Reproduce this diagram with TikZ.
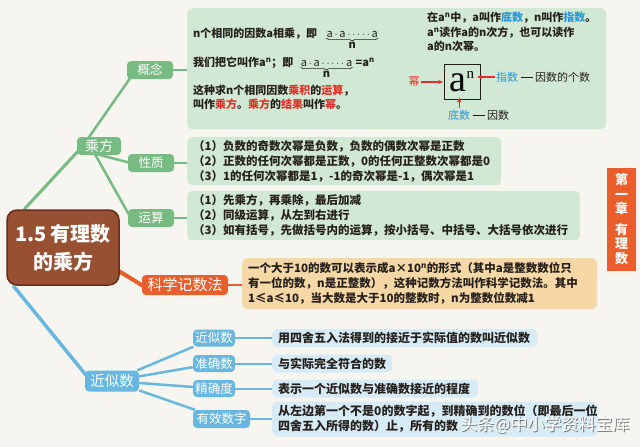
\documentclass[tikz,border=0pt]{standalone}
\usepackage{fontspec}
\setmainfont{Noto Sans CJK SC}
\newfontfamily\serifa{Liberation Serif}
\usetikzlibrary{arrows.meta,positioning,calc,backgrounds,decorations.pathreplacing}
\definecolor{paper}{RGB}{246,245,240}
\definecolor{ink}{RGB}{38,32,28}
\definecolor{leaf}{RGB}{209,232,212}
\definecolor{twig}{RGB}{120,187,130}
\definecolor{bark}{RGB}{152,80,50}
\definecolor{barkdark}{RGB}{105,45,30}
\definecolor{ember}{RGB}{233,94,42}
\definecolor{sand}{RGB}{246,216,166}
\definecolor{sky}{RGB}{104,183,224}
\definecolor{mist}{RGB}{214,235,246}
\definecolor{redtxt}{RGB}{228,48,38}
\definecolor{bluetxt}{RGB}{40,150,215}
\newcommand{\fs}[2]{\fontsize{#1}{#2}\selectfont}
\newcommand{\hl}[1]{\textcolor{redtxt}{#1}}
\newcommand{\bl}[1]{\textcolor{bluetxt}{#1}}
\newcommand{\prodrow}{$\mathrm{a}\,{\cdot}\,\mathrm{a}\,{\cdot}\,{\cdots}\,{\cdot}\,\mathrm{a}$}
\tikzset{
  rootbox/.style={fill=bark, draw=barkdark, line width=1.5pt, rounded corners=10pt, minimum width=112pt, minimum height=75pt, text=white, font=\fs{20}{28}\bfseries, align=center},
  pill/.style={rounded corners=4pt, text=white, inner sep=0pt, font=\fs{12.5}{12.5}},
  greenpill/.style={pill, fill=twig, minimum width=46pt, minimum height=18pt},
  skypill/.style={pill, fill=sky, minimum width=42pt, minimum height=17pt},
  pane/.style={rounded corners=5pt, anchor=north west, inner xsep=6pt, inner ysep=0pt, align=left, text=ink, font=\fs{11.5}{15}\bfseries},
  leafpane/.style={pane, fill=leaf},
  sandpane/.style={pane, fill=sand},
  mistpane/.style={pane, fill=mist, font=\fs{12}{15}\bfseries},
  txt/.style={inner sep=0pt, text=ink, font=\fs{11}{14.5}\bfseries},
  lbl/.style={inner sep=1pt, font=\fs{11}{11}},
  brc/.style={decorate, decoration={brace, mirror, amplitude=2.5pt}, draw=ink, line width=0.6pt},
  redarrow/.style={-{Latex[length=5pt,width=4.5pt]}, draw=redtxt, line width=1.1pt},
  twigline/.style={draw=twig, line width=2.5pt},
  emberline/.style={draw=ember, line width=4pt},
  skyline/.style={draw=sky, line width=2.5pt},
}

\begin{document}
\begin{tikzpicture}[x=1pt, y=-1pt]
  \useasboundingbox (0,0) rectangle (640,447);
  % root
  \node[rootbox] (root) at (63,247.5) {1.5 有理数\\的乘方};

  % 乘方 branch
  \node[greenpill, minimum width=44pt, font=\fs{14}{14}] (cf) at (99,146) {乘方};
  \node[greenpill] (gn) at (150,70) {概念};
  \node[greenpill] (xz) at (151,163) {性质};
  \node[greenpill] (ys) at (151,218) {运算};
  \node[leafpane, minimum width=419pt, minimum height=121pt] (gnBox) at (187,8) {};
  \node[leafpane, text width=302pt, minimum height=48pt] (xzBox) at (187,137)
    {（1）负数的奇数次幂是负数，负数的偶数次幂是正数\\
     （2）正数的任何次幂都是正数，0的任何正整数次幂都是0\\
     （3）1的任何次幂都是1，-1的奇次幂是-1，偶次幂是1};
  \node[leafpane, text width=381pt, minimum height=49pt] (ysBox) at (187,191)
    {（1）先乘方，再乘除，最后加减\\
     （2）同级运算，从左到右进行\\
     （3）如有括号，先做括号内的运算，按小括号、中括号、大括号依次进行};

  % 概念 text
  \node[txt, anchor=base west] (l1) at (193,37) {n个相同的因数a相乘，即};
  \node[txt, anchor=base west] (ua1) at ($(l1.base east)+(9,0)$) {\prodrow};
  \node[txt, below=4.5pt of ua1] (un1) {n};
  \node[txt, anchor=base west] (l2) at (193,66) {我们把它叫作a\textsuperscript{n}；即};
  \node[txt, anchor=base west] (ua2) at ($(l2.base east)+(7,0)$) {\prodrow};
  \node[txt, below=4.5pt of ua2] (un2) {n};
  \node[txt, anchor=base west] (eq2) at ($(ua2.base east)+(3,0)$) {=a\textsuperscript{n}};
  \draw[brc] ($(ua1.south west)+(0,1)$) -- ($(ua1.south east)+(0,1)$);
  \draw[brc] ($(ua2.south west)+(0,1)$) -- ($(ua2.south east)+(0,1)$);
  \node[txt, anchor=base west] (l3) at (193,94) {这种求n个相同因数\hl{乘积}的\hl{运算}，};
  \node[txt, anchor=base west] (l4) at (193,108) {叫作\hl{乘方}。\hl{乘方}的\hl{结果}叫作\hl{幂}。};
  \node[txt, anchor=north west, align=left] (rt) at (427,12)
    {在a\textsuperscript{n}中，a叫作\bl{底数}，n叫作\bl{指数}。\\
     a\textsuperscript{n}读作a的n次方，也可以读作\\
     a的n次幂。};
  \node[draw=ink, line width=1pt, minimum width=36pt, minimum height=35pt, inner sep=0pt] (pw) at (462,82)
    {\serifa\fs{38}{38}a\raisebox{13pt}{\fs{15}{15}n}};
  \node[lbl, text=redtxt] (mi) at (414,82) {幂};
  \node[lbl, text=bluetxt, anchor=west] (zhi) at (495,77) {指数};
  \node[lbl, text=ink, anchor=west] (yinA) at (534,77) {因数的个数};
  \node[lbl, text=bluetxt, anchor=west] (di) at (447,115) {底数};
  \node[lbl, text=ink, anchor=west] (yinB) at (486,115) {因数};
  \draw[redarrow] (mi) -- (pw.west);
  \draw[redarrow] (zhi.west) -- ($(zhi.west -| pw.east)+(-4,0)$);
  \draw[redarrow] ($(di.north)+(0,-1)$) -- ($(di.north |- pw.south)+(0,-3)$);
  \draw[ink, line width=0.8pt] ($(zhi.east)+(2,0)$) -- ($(yinA.west)+(-1,0)$);
  \draw[ink, line width=0.8pt] ($(di.east)+(2,0)$) -- ($(yinB.west)+(-1,0)$);

  % 科学记数法
  \node[pill, fill=ember, minimum width=86pt, minimum height=20pt, font=\fs{15}{15}] (kx) at (185,285) {科学记数法};
  \node[sandpane, text width=343pt, minimum height=51pt] (kxBox) at (242,258)
    {一个大于10的数可以表示成a×10\textsuperscript{n}的形式（其中a是整数数位只\\
     有一位的数，n是正整数），这种记数方法叫作科学记数法。其中\\
     1≤a≤10，当大数是大于10的整数时，n为整数位数减1};

  % 近似数 branch
  \node[skypill, minimum width=54pt, minimum height=21pt, font=\fs{14.5}{14.5}] (jm) at (112,381) {近似数};
  \node[skypill] (j1) at (214,338) {近似数};
  \node[skypill] (j2) at (214,363.5) {准确数};
  \node[skypill] (j3) at (214,388.5) {精确度};
  \node[skypill, minimum width=57pt, minimum height=18pt] (j4) at (221.5,419) {有效数字};
  \node[mistpane, anchor=west, text width=253pt, minimum height=18pt] (j1box) at (272,338) {用四舍五入法得到的接近于实际值的数叫近似数};
  \node[mistpane, anchor=west, text width=108pt, minimum height=18pt] (j2box) at (272,363.5) {与实际完全符合的数};
  \node[mistpane, anchor=west, text width=194pt, minimum height=18pt] (j3box) at (272,388.5) {表示一个近似数与准确数接近的程度};
  \node[mistpane, anchor=west, text width=314pt, minimum height=35pt] (j4box) at (272,419)
    {从左边第一个不是0的数字起，到精确到的数位（即最后一位\\
     四舍五入所得的数）止，所有的数};

  % side tab
  \node[fill=ember, text=white, minimum width=29pt, minimum height=103pt, inner sep=0pt, align=center, font=\fs{13}{14.5}\bfseries] (tab) at (621.5,219)
    {第\\一\\章\\[6pt]有\\理\\数};

  % watermark
  \node[text=black!55, font=\fs{17}{17}] (wms) at (546,426) {头条@中小学资料宝库};
  \node[text=white, font=\fs{17}{17}] (wm) at (545,425) {头条@中小学资料宝库};

  \begin{scope}[on background layer]
    \fill[paper] (0,0) rectangle (640,447);
    \draw[twigline, line width=3pt] ($(root.north west)+(18,0)$) -- ($(cf.west)+(6,0)$);
    \draw[twigline] ($(cf.west)+(6,0)$) -- ($(gn.south west)+(4,-2)$);
    \draw[twigline] ($(cf.south)+(-2,-1)$) -- ($(xz.west)+(3,0)$);
    \draw[twigline] ($(cf.south)+(-4,-1)$) -- ($(ys.west)+(3,0)$);
    \draw[twigline, line width=2pt] (gn) -- (gn -| gnBox.west);
    \draw[twigline, line width=2pt] (xz) -- (xz -| xzBox.west);
    \draw[twigline, line width=2pt] (ys) -- (ys -| ysBox.west);
    \draw[emberline] ($(root.south east)+(-3,-16)$) -- ($(kx.west)+(3,2)$);
    \draw[emberline, line width=2.5pt] (kx) -- (kx -| kxBox.west);
    \draw[skyline, line width=3.5pt] ($(root.south west)+(7,0)$) -- ($(jm.west)+(6,0)$);
    \foreach \s in {j1,j2,j3,j4}
      \draw[skyline] (jm) -- (\s);
    \draw[skyline, line width=2pt] (j1) -- (j1box.west);
    \draw[skyline, line width=2pt] (j2) -- (j2box.west);
    \draw[skyline, line width=2pt] (j3) -- (j3box.west);
    \draw[skyline, line width=2pt] (j4) -- (j4box.west);
  \end{scope}
\end{tikzpicture}
\end{document}
